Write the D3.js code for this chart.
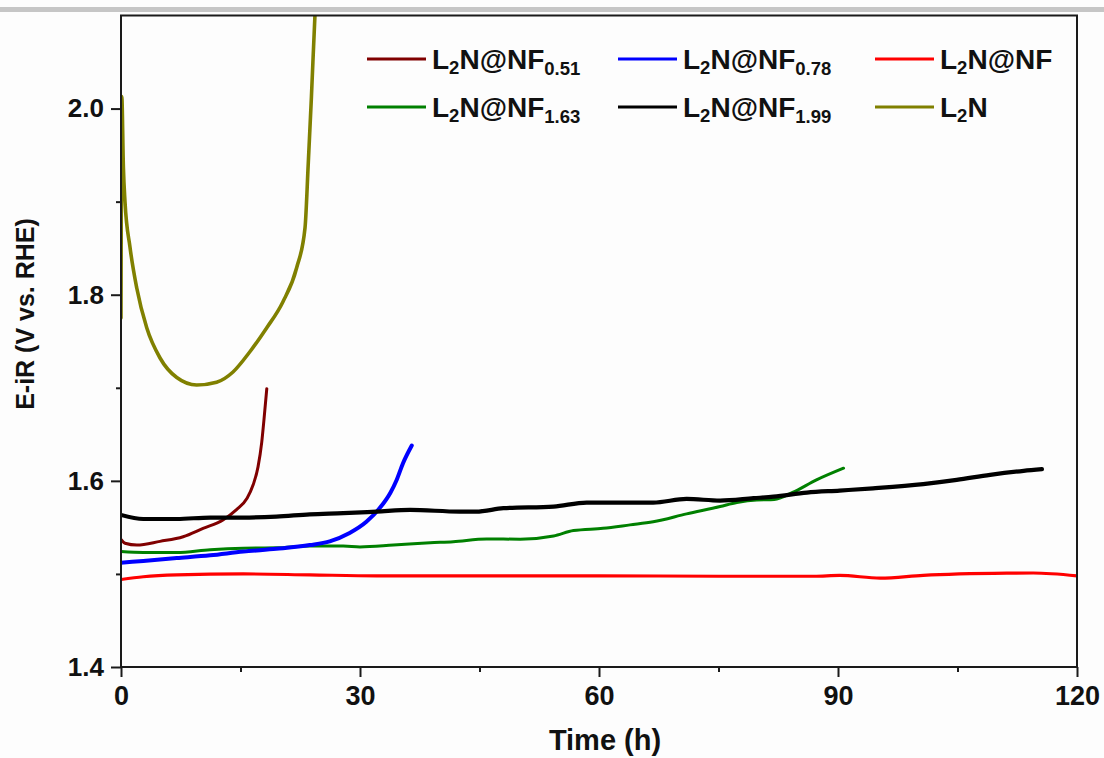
<!DOCTYPE html>
<html>
<head>
<meta charset="utf-8">
<script src="https://cdn.jsdelivr.net/npm/d3@7"></script>
<style>
  html, body { margin: 0; padding: 0; background: #fdfdfd; }
  svg { display: block; }
  text { font-family: "Liberation Sans", Arial, sans-serif; font-weight: bold; fill: #111; }
</style>
</head>
<body>
<svg id="chart" width="1104" height="758"></svg>
<script>
// ---------- data (time in h, E-iR in V vs. RHE) ----------
const xMajorTicks = [0, 30, 60, 90, 120];
const xMinorTicks = [15, 45, 75, 105];
const yMajorTicks = [1.4, 1.6, 1.8, 2.0];
const yMinorTicks = [1.5, 1.7, 1.9];

const seriesKeys = ["nf051", "nf078", "nf", "nf163", "nf199", "l2n"];
const seriesLabels = [
  ["L", "2", "N@NF", "0.51"],
  ["L", "2", "N@NF", "0.78"],
  ["L", "2", "N@NF", ""],
  ["L", "2", "N@NF", "1.63"],
  ["L", "2", "N@NF", "1.99"],
  ["L", "2", "N", ""]
];
const seriesColors = ["#800000", "#0000ff", "#ff0000", "#008000", "#000000", "#808000"];

const dataNF051 = [
  [0, 1.537], [0.5, 1.533], [2.0, 1.531], [4.9, 1.535], [7.8, 1.540], [10.3, 1.549],
  [12.8, 1.558], [14.5, 1.569], [15.8, 1.581], [16.6, 1.596], [17.2, 1.615],
  [17.66, 1.641], [17.95, 1.666], [18.3, 1.699]
];
const dataNF078 = [
  [0, 1.512], [2.8, 1.514], [7.0, 1.517], [11.2, 1.520], [15.35, 1.524], [19.5, 1.527],
  [23.7, 1.531], [26.2, 1.535], [28.7, 1.544], [30.8, 1.556], [32.5, 1.571],
  [33.8, 1.587], [34.6, 1.601], [35.4, 1.619], [36.5, 1.638]
];
const dataNF = [
  [0, 1.494], [2.8, 1.497], [7.0, 1.499], [15.35, 1.500], [23.7, 1.499], [32.1, 1.498],
  [45, 1.498], [60, 1.498], [75, 1.4975], [87, 1.4975], [90.2, 1.4985], [95.3, 1.4955],
  [100.7, 1.4985], [111.2, 1.5008], [114.5, 1.501], [120, 1.498]
];
const dataNF163 = [
  [0, 1.524], [2.8, 1.523], [7.0, 1.523], [11.2, 1.526], [15.35, 1.5276], [19.5, 1.528],
  [23.7, 1.530], [27.9, 1.530], [30.0, 1.529], [34.2, 1.531], [38.8, 1.5335],
  [41.7, 1.5347], [45.9, 1.5376], [50.1, 1.5373], [54.3, 1.5408], [56.8, 1.5466],
  [60.5, 1.549], [63.9, 1.5527], [66.8, 1.556], [71.0, 1.5645], [75.2, 1.5724],
  [77.3, 1.5767], [79.8, 1.5795], [82.0, 1.580], [84.3, 1.5875], [87.3, 1.601], [90.7, 1.6136]
];
const dataNF199 = [
  [0, 1.5634], [2.8, 1.559], [7.0, 1.559], [11.2, 1.5606], [15.35, 1.5606], [19.5, 1.5616],
  [23.7, 1.564], [27.9, 1.5653], [32.1, 1.567], [36.3, 1.5688], [42.5, 1.567],
  [44.6, 1.567], [48.0, 1.5706], [54.3, 1.5724], [58.45, 1.5767], [62.6, 1.5767],
  [66.8, 1.5767], [71.0, 1.5806], [75.2, 1.5788], [79.4, 1.5814], [81.9, 1.583],
  [86.1, 1.5874], [90.2, 1.5896], [94.4, 1.592], [100.7, 1.5965], [104.9, 1.601],
  [109.1, 1.6065], [113.3, 1.6108], [115.6, 1.6126]
];
const dataL2N = [
  [0, 1.775], [0.1, 2.013], [0.3, 1.937], [0.5, 1.900], [1.13, 1.851], [1.97, 1.8075],
  [3.23, 1.7645], [4.9, 1.732], [7.0, 1.711], [9.5, 1.703], [12.0, 1.706], [14.06, 1.717],
  [16.2, 1.739], [18.3, 1.7645], [20.3, 1.792], [22.05, 1.829], [23.1, 1.872],
  [23.5, 1.940], [23.9, 2.012], [24.35, 2.101], [24.6, 2.14]
];
const seriesData = [dataNF051, dataNF078, dataNF, dataNF163, dataNF199, dataL2N];

// ---------- chart ----------
const svg = d3.select("#chart");
const W = 1104, H = 758;
const mLeft = 121, mRight = 1077, mTop = 15.5, mBottom = 667;

const x = d3.scaleLinear().domain([0, 120]).range([mLeft, mRight]);
const y = d3.scaleLinear().domain([1.4, 2.1]).range([mBottom, mTop]);

// top grey band
svg.append("rect").attr("x", 0).attr("y", 7).attr("width", W).attr("height", 5).attr("fill", "#c6c6c6");

svg.append("defs").append("clipPath").attr("id", "plotclip")
  .append("rect").attr("x", mLeft).attr("y", mTop).attr("width", mRight - mLeft).attr("height", mBottom - mTop);

// series lines
const line = d3.line().x(d => x(d[0])).y(d => y(d[1])).curve(d3.curveMonotoneX);
const widths = [3, 4, 3.2, 3, 4.2, 3.6];
const drawOrder = [5, 3, 1, 0, 4, 2];
const gLines = svg.append("g").attr("clip-path", "url(#plotclip)");
drawOrder.forEach(i => {
  gLines.append("path")
    .datum(seriesData[i])
    .attr("fill", "none")
    .attr("stroke", seriesColors[i])
    .attr("stroke-width", widths[i])
    .attr("stroke-linejoin", "round")
    .attr("stroke-linecap", "round")
    .attr("d", line);
});

// axes
const axisColor = "#1a1a1a";
const gx = svg.append("g").attr("transform", `translate(0,${mBottom})`)
  .call(d3.axisBottom(x).tickValues(xMajorTicks).tickSize(10).tickPadding(9).tickFormat(d3.format("d")));
const gxm = svg.append("g").attr("transform", `translate(0,${mBottom})`)
  .call(d3.axisBottom(x).tickValues(xMinorTicks).tickSize(5).tickFormat(""));
const gy = svg.append("g").attr("transform", `translate(${mLeft},0)`)
  .call(d3.axisLeft(y).tickValues(yMajorTicks).tickSize(10).tickPadding(7).tickFormat(d3.format(".1f")));
const gym = svg.append("g").attr("transform", `translate(${mLeft},0)`)
  .call(d3.axisLeft(y).tickValues(yMinorTicks).tickSize(5).tickFormat(""));
[gx, gxm, gy, gym].forEach(g => {
  g.select(".domain").remove();
  g.selectAll(".tick line").attr("stroke", axisColor).attr("stroke-width", 2);
});
gx.selectAll(".tick text").attr("font-size", 27).attr("fill", "#111")
  .attr("font-family", "Liberation Sans, Arial, sans-serif").attr("font-weight", "bold");
gy.selectAll(".tick text").attr("font-size", 26).attr("fill", "#111")
  .attr("font-family", "Liberation Sans, Arial, sans-serif").attr("font-weight", "bold");

// frame
svg.append("rect").attr("x", mLeft).attr("y", mTop).attr("width", mRight - mLeft).attr("height", mBottom - mTop)
  .attr("fill", "none").attr("stroke", axisColor).attr("stroke-width", 2);

// axis titles
svg.append("text").attr("x", 605).attr("y", 750).attr("text-anchor", "middle")
  .attr("font-size", 29).text("Time (h)");
svg.append("text").attr("transform", "translate(34,314) rotate(-90)").attr("text-anchor", "middle")
  .attr("font-size", 25).text("E-iR (V vs. RHE)");

// legend
const legCols = [367, 618, 875];
const legRows = [69, 117];
seriesLabels.forEach((lab, i) => {
  const cx = legCols[i % 3], by = legRows[Math.floor(i / 3)];
  svg.append("line").attr("x1", cx).attr("x2", cx + 59).attr("y1", by - 10).attr("y2", by - 10)
    .attr("stroke", seriesColors[i]).attr("stroke-width", 3);
  const t = svg.append("text").attr("x", cx + 65).attr("y", by).attr("font-size", 28);
  t.append("tspan").text(lab[0]);
  t.append("tspan").attr("font-size", 18.5).attr("dy", 5).text(lab[1]);
  t.append("tspan").attr("dy", -5).text(lab[2]);
  if (lab[3]) t.append("tspan").attr("font-size", 18.5).attr("dy", 6).text(lab[3]);
});
</script>
</body>
</html>
